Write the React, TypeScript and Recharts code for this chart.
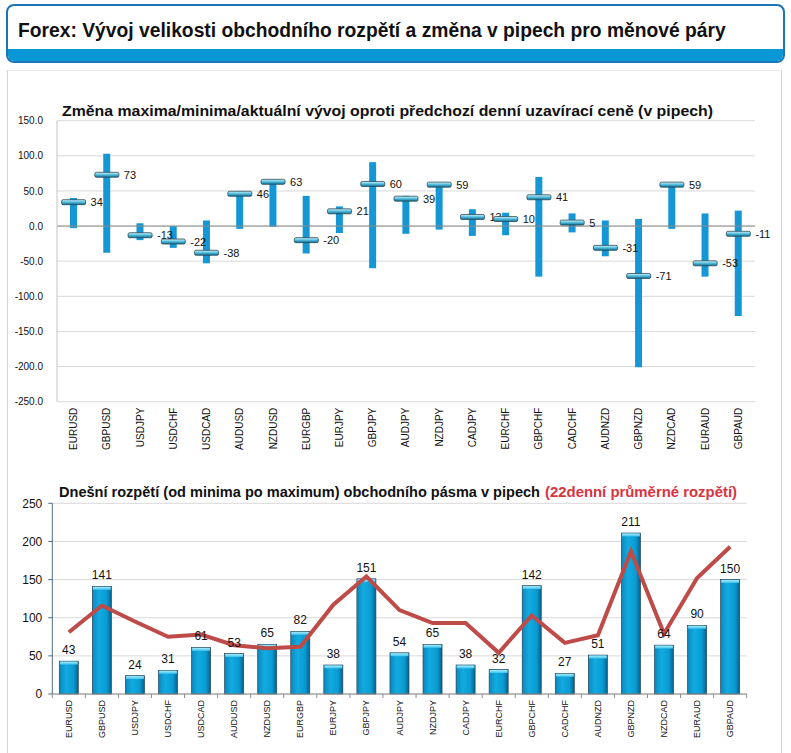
import { ComposedChart, Bar, Scatter, Line, XAxis, YAxis, CartesianGrid, ReferenceLine, LabelList } from 'recharts'

const pairs = ['EURUSD', 'GBPUSD', 'USDJPY', 'USDCHF', 'USDCAD', 'AUDUSD', 'NZDUSD', 'EURGBP', 'EURJPY', 'GBPJPY', 'AUDJPY', 'NZDJPY', 'CADJPY', 'EURCHF', 'GBPCHF', 'CADCHF', 'AUDNZD', 'GBPNZD', 'NZDCAD', 'EURAUD', 'GBPAUD']
const dayMax = [40, 103, 4, 0, 8, 49, 64, 43, 28, 91, 43, 60, 24, 19, 70, 18, 8, 10, 60, 18, 22]
const dayMin = [-3, -38, -20, -31, -53, -4, -1, -39, -10, -60, -11, -5, -14, -13, -72, -9, -43, -201, -4, -72, -128]
const current = [34, 73, -13, -22, -38, 46, 63, -20, 21, 60, 39, 59, 13, 10, 41, 5, -31, -71, 59, -53, -11]
const todayRange = [43, 141, 24, 31, 61, 53, 65, 82, 38, 151, 54, 65, 38, 32, 142, 27, 51, 211, 64, 90, 150]
const avg22 = [81, 116, 95, 75, 78, 64, 60, 62, 117, 154, 110, 93, 93, 54, 103, 67, 77, 187, 79, 152, 193]
const changeTicks = [150, 100, 50, 0, -50, -100, -150, -200, -250]
const rangeTicks = [0, 50, 100, 150, 200, 250]

const FONT = '"Liberation Sans", Arial, sans-serif'

const topRows = pairs.map((p, i) => ({ pair: p, span: [dayMin[i], dayMax[i]], cur: current[i] }))
const bottomRows = pairs.map((p, i) => ({ pair: p, range: todayRange[i], avg: avg22[i] }))

function Marker(p: any) {
  const { cx, cy, payload } = p
  return (
    <g>
      <rect x={cx - 12} y={cy - 2.5} width={24} height={5} rx={1.5} fill="url(#rodGrad)" stroke="#2b4b55" strokeWidth={0.8} />
      <text x={cx + 17} y={cy} dominantBaseline="central" fontSize={11} fontFamily={FONT} fill="#111">{payload.cur}</text>
    </g>
  )
}

function TopTick(p: any) {
  const { x, y, payload } = p
  const ty = y + 6
  return (
    <text x={x} y={ty} transform={`rotate(-90 ${x} ${ty})`} textAnchor="end" dominantBaseline="central" fontSize={10} fontFamily={FONT} fill="#111">
      {payload.value}
    </text>
  )
}

const BAND = 694.4 / 21

function BottomTick(p: any) {
  const { x, y, payload, index } = p
  const ty = y + 6
  return (
    <g>
      <line x1={x - BAND / 2} x2={x - BAND / 2} y1={y} y2={y + 4} stroke="#8c8c8c" />
      {index === pairs.length - 1 && <line x1={x + BAND / 2} x2={x + BAND / 2} y1={y} y2={y + 4} stroke="#8c8c8c" />}
      <text x={x} y={ty} transform={`rotate(-90 ${x} ${ty})`} textAnchor="end" dominantBaseline="central" fontSize={9} fontFamily={FONT} fill="#111">
        {payload.value}
      </text>
    </g>
  )
}

function CylBar(p: any) {
  const { x, y, width, height } = p
  if (!height || height <= 0) return null
  return (
    <g>
      <rect x={x} y={y} width={width} height={height} fill="url(#barGrad)" stroke="#23425a" strokeWidth={0.7} />
      <rect x={x + 0.6} y={y + 0.4} width={width - 1.2} height={3} fill="url(#capGrad)" />
    </g>
  )
}

export default function App() {
  return (
    <div style={{ position: 'absolute', left: 0, top: 0, width: 791, height: 753, background: '#fff', fontFamily: FONT, overflow: 'hidden' }}>
      <div style={{ position: 'absolute', left: 6, top: 4, width: 775, height: 55, border: '2px solid #1c74b9', borderRadius: 8, background: '#fff' }}>
        <div style={{ position: 'absolute', left: 0, right: 0, bottom: 0, height: 12, background: '#0a97d6', borderRadius: '0 0 6px 6px' }} />
        <svg width={775} height={48} style={{ position: 'absolute', left: 0, top: 0 }}>
          <g transform="translate(10 31) scale(0.86 1)">
            <text x={0} y={0} fontSize={21} fontWeight="bold" fontFamily={FONT} fill="#111" textLength={823} lengthAdjust="spacingAndGlyphs">
              Forex: Vývoj velikosti obchodního rozpětí a změna v pipech pro měnové páry
            </text>
          </g>
        </svg>
      </div>
      <div style={{ position: 'absolute', left: 7, top: 70, width: 773, height: 700, borderLeft: '1px solid #d3d3d3', borderRight: '1px solid #d3d3d3', borderTop: '1px solid #e6e6e6' }} />

      <svg width={791} height={30} style={{ position: 'absolute', left: 0, top: 95 }}>
        <text x={62} y={21} fontSize={14.5} fontWeight="bold" fontFamily={FONT} fill="#111" textLength={651} lengthAdjust="spacingAndGlyphs">
          Změna maxima/minima/aktuální vývoj oproti předchozí denní uzavírací ceně (v pipech)
        </text>
      </svg>
      <div style={{ position: 'absolute', left: 0, top: 95 }}>
        <ComposedChart width={791} height={380} data={topRows} margin={{ top: 25.7, right: 36, bottom: 13.3, left: 0 }}>
          <defs>
            <linearGradient id="rodGrad" x1="0" y1="0" x2="0" y2="1">
              <stop offset="0" stopColor="#d6f3fa" />
              <stop offset="0.45" stopColor="#5cc3e2" />
              <stop offset="1" stopColor="#0b6c93" />
            </linearGradient>
          </defs>
          <CartesianGrid vertical={false} stroke="#d9d9d9" />
          <XAxis dataKey="pair" type="category" height={60} axisLine={false} tickLine={false} tickSize={0} tickMargin={0} interval={0} tick={<TopTick />} />
          <YAxis type="number" width={57} domain={[-250, 150]} ticks={changeTicks} tickFormatter={(v: number) => v.toFixed(1)} axisLine={{ stroke: '#c4c4c4' }} tickLine={false} tickSize={6} tickMargin={8} tick={{ fontSize: 10, fill: '#111', fontFamily: FONT }} />
          <ReferenceLine y={0} stroke="#8a8a8a" />
          <Bar dataKey="span" barSize={7} fill="#1497d4" isAnimationActive={false} />
          <Scatter dataKey="cur" shape={<Marker />} isAnimationActive={false} />
        </ComposedChart>
      </div>

      <svg width={791} height={30} style={{ position: 'absolute', left: 0, top: 475 }}>
        <text x={59} y={22} fontSize={15} fontWeight="bold" fontFamily={FONT} fill="#111" textLength={481} lengthAdjust="spacingAndGlyphs">
          Dnešní rozpětí (od minima po maximum) obchodního pásma v pipech
        </text>
        <text x={545} y={22} fontSize={15} fontWeight="bold" fontFamily={FONT} fill="#d9333f" textLength={192} lengthAdjust="spacingAndGlyphs">
          (22denní průměrné rozpětí)
        </text>
      </svg>
      <div style={{ position: 'absolute', left: 0, top: 470 }}>
        <ComposedChart width={791} height={283} data={bottomRows} margin={{ top: 33.3, right: 44.3, bottom: 9, left: 0 }}>
          <defs>
            <linearGradient id="barGrad" x1="0" y1="0" x2="1" y2="0">
              <stop offset="0" stopColor="#0b88bd" />
              <stop offset="0.35" stopColor="#12abe0" />
              <stop offset="0.75" stopColor="#0a9bd3" />
              <stop offset="1" stopColor="#05628c" />
            </linearGradient>
            <linearGradient id="capGrad" x1="0" y1="0" x2="0" y2="1">
              <stop offset="0" stopColor="#a9ecfb" />
              <stop offset="1" stopColor="#3cc2ec" />
            </linearGradient>
          </defs>
          <CartesianGrid vertical={false} stroke="#d9d9d9" />
          <XAxis dataKey="pair" type="category" height={50} axisLine={{ stroke: '#8c8c8c' }} tickLine={false} tickSize={0} tickMargin={0} interval={0} tick={<BottomTick />} />
          <YAxis type="number" width={52.3} domain={[0, 250]} ticks={rangeTicks} axisLine={{ stroke: '#4d6b8c' }} tickLine={{ stroke: '#4d6b8c' }} tickSize={4} tickMargin={6} tick={{ fontSize: 12, fill: '#111', fontFamily: FONT }} />
          <Bar dataKey="range" barSize={19} shape={<CylBar />} isAnimationActive={false}>
            <LabelList dataKey="range" position="top" offset={7} fontSize={12} fill="#111" fontFamily={FONT} />
          </Bar>
          <Line dataKey="avg" type="linear" stroke="#be4b48" strokeWidth={4} dot={false} activeDot={false} isAnimationActive={false} />
        </ComposedChart>
      </div>
    </div>
  )
}
